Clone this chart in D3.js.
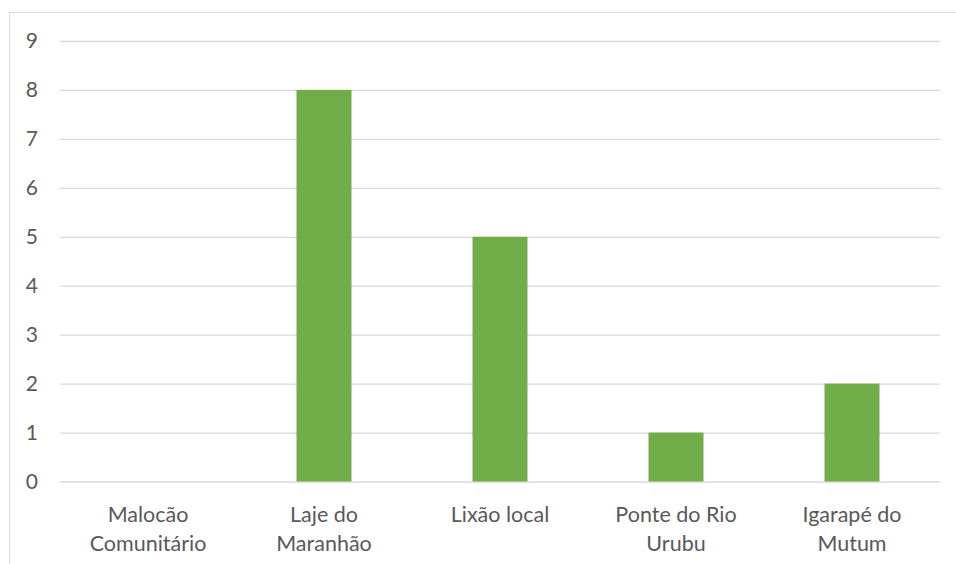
<!DOCTYPE html>
<html><head><meta charset="utf-8">
<script src="https://cdn.jsdelivr.net/npm/d3@7"></script>
<style>body{margin:0;background:#fff}svg{display:block}</style>
</head><body>
<script>
const categories = [["Malocão","Comunitário"],["Laje do","Maranhão"],["Lixão local"],["Ponte do Rio","Urubu"],["Igarapé do","Mutum"]];
const values = [0, 8, 5, 1, 2];
const yTicks = [0,1,2,3,4,5,6,7,8,9];

const W = 956, H = 564;
const m = {left: 60, right: 16, top: 41, bottom: 82.5};
const svg = d3.select("body").append("svg").attr("width", W).attr("height", H);

svg.append("rect").attr("x", 9.5).attr("y", 12.5).attr("width", 960).attr("height", 600)
  .attr("fill", "none").attr("stroke", "#D9D9D9").attr("stroke-width", 1);

const x = d3.scaleBand().domain(d3.range(categories.length)).range([m.left, W - m.right]).paddingInner(0.6875).paddingOuter(0.34375);
const y = d3.scaleLinear().domain([0, 9]).range([H - m.bottom, m.top]);

const yAxis = svg.append("g").attr("transform", `translate(${m.left},0)`)
  .call(d3.axisLeft(y).tickValues(yTicks).tickSize(-(W - m.left - m.right)).tickPadding(22).tickFormat(d3.format("d")));
yAxis.select(".domain").remove();
yAxis.selectAll(".tick line").attr("stroke", "#D9D9D9").attr("stroke-width", 1.3);
yAxis.selectAll(".tick text").attr("fill", "#595959").style("font-family", "Lato, Carlito, Calibri, sans-serif").style("font-size", "21px");

svg.append("g").selectAll("rect").data(values).join("rect")
  .attr("x", (d, i) => x(i)).attr("width", x.bandwidth())
  .attr("y", d => y(d)).attr("height", d => y(0) - y(d))
  .attr("fill", "#70AD47");

const lab = svg.append("g").selectAll("text").data(categories).join("text")
  .attr("x", (d, i) => x(i) + x.bandwidth() / 2)
  .attr("y", 522)
  .attr("text-anchor", "middle").attr("fill", "#595959")
  .style("font-family", "Lato, Carlito, Calibri, sans-serif").style("font-size", "21.5px");
lab.selectAll("tspan").data(d => d).join("tspan")
  .attr("x", function(){ return this.parentNode.getAttribute("x"); })
  .attr("dy", (d, i) => i === 0 ? 0 : 28.5)
  .text(d => d);
</script>
</body></html>
